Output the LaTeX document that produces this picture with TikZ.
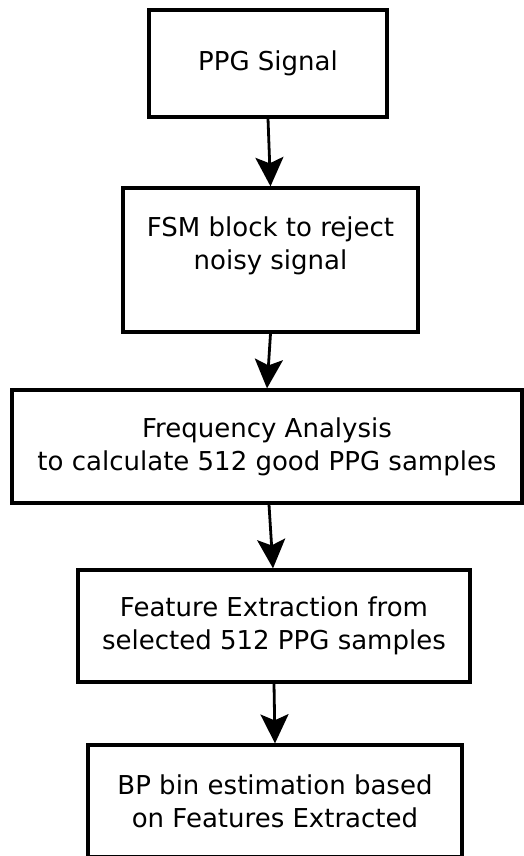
\documentclass[tikz,border=0pt]{standalone}
\usepackage{fontspec}
\setmainfont{DejaVu Sans}
\usepackage{tikz}
\usetikzlibrary{positioning,arrows.meta}

\begin{document}
\begin{tikzpicture}
  [x=1pt, y=-1pt,
   every node/.style={draw, line width=3.3pt, align=center, inner sep=0pt,
     font=\fontsize{26}{33}\selectfont},
   >={Stealth[length=29pt,width=28pt,inset=6pt]}]

  \useasboundingbox (0,0) rectangle (524,856);

  % the blocks, top to bottom
  \node [minimum width=238pt, minimum height=107pt] (ppg) at (268,63.5)
    {PPG Signal};
  \node [minimum width=295pt, minimum height=144pt] (fsm) at (270.5,260)
    {FSM block to reject\\noisy signal\\ \mbox{}};
  \node [minimum width=510pt, minimum height=113pt] (freq) at (267,446.5)
    {Frequency Analysis\\to calculate 512 good PPG samples};
  \node [minimum width=392pt, minimum height=112pt] (feat) at (274,626)
    {Feature Extraction from\\selected 512 PPG samples};
  \node [minimum width=374pt, minimum height=112pt] (bp) at (275,801)
    {BP bin estimation based\\on Features Extracted};

  % arrows between them
  \draw [line width=2.8pt, ->] (ppg.south) -- (fsm.north);
  \draw [line width=2.8pt, ->] (fsm.south) -- (freq.north);
  \draw [line width=2.8pt, ->] ([xshift=2pt]freq.south) -- ([xshift=-1pt]feat.north);
  \draw [line width=2.8pt, ->] (feat.south) -- (bp.north);

\end{tikzpicture}
\end{document}
